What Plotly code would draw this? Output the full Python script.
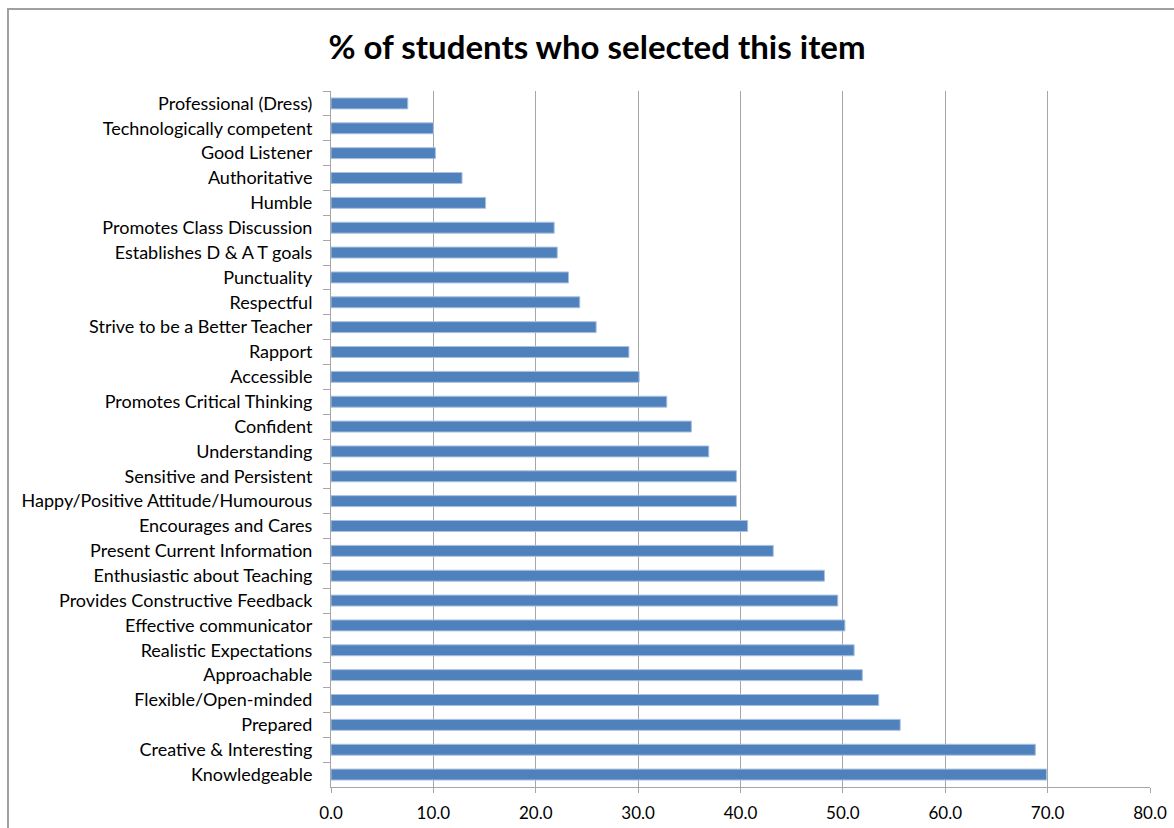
import plotly.graph_objects as go

categories = [
    "Professional (Dress)", "Technologically competent", "Good Listener", "Authoritative",
    "Humble", "Promotes Class Discussion", "Establishes D & A T goals", "Punctuality",
    "Respectful", "Strive to be a Better Teacher", "Rapport", "Accessible",
    "Promotes Critical Thinking", "Confident", "Understanding", "Sensitive and Persistent",
    "Happy/Positive Attitude/Humourous", "Encourages and Cares", "Present Current Information",
    "Enthusiastic about Teaching", "Provides Constructive Feedback", "Effective communicator",
    "Realistic Expectations", "Approachable", "Flexible/Open-minded", "Prepared",
    "Creative & Interesting", "Knowledgeable",
]
values = [
    7.5, 10.0, 10.2, 12.8,
    15.1, 21.8, 22.1, 23.2,
    24.3, 25.9, 29.1, 30.1,
    32.8, 35.2, 36.9, 39.6,
    39.6, 40.7, 43.2,
    48.2, 49.5, 50.2,
    51.1, 51.9, 53.5, 55.6,
    68.8, 69.9,
]
x_ticks = [0, 10, 20, 30, 40, 50, 60, 70, 80]

FONT = "Lato"

fig = go.Figure(go.Bar(
    x=values, y=categories, orientation="h",
    marker=dict(color="#4F81BD", line=dict(color="#A9C1E0", width=1)),
    width=0.44,
))

fig.update_layout(
    width=1174, height=828,
    margin=dict(l=331, r=24, t=91, b=41, autoexpand=False),
    paper_bgcolor="white", plot_bgcolor="white",
    showlegend=False,
    font=dict(family=FONT, size=16, color="#000000"),
    title=dict(text="<b>% of students who selected this item</b>",
               x=597 / 1174, xanchor="center", y=1 - 47 / 828, yanchor="middle",
               font=dict(family=FONT, size=33, color="#000000")),
)
fig.update_xaxes(
    range=[0, 80], tickvals=x_ticks, tickformat=".1f",
    showgrid=True, gridcolor="#A6A6A6", gridwidth=1,
    showline=True, linecolor="#A6A6A6", linewidth=1,
    ticks="outside", ticklen=5, tickcolor="#A6A6A6",
    zeroline=False, tickfont=dict(family=FONT, size=17),
    ticklabelstandoff=6, automargin=False,
)
fig.update_yaxes(
    autorange="reversed", showgrid=False,
    showline=True, linecolor="#A6A6A6", linewidth=1,
    ticks="outside", ticklen=7, tickcolor="#A6A6A6", tickson="boundaries",
    tickfont=dict(family=FONT, size=18),
    ticklabelstandoff=14, automargin=False,
)
# outer chart border (left and top edges visible)
fig.add_shape(type="path", xref="paper", yref="paper",
              path="M -0.3944,-0.07 L -0.3944,1.1178 L 1.1,1.1178",
              line=dict(color="#A0A0A0", width=2))

fig.write_html("out.html")
